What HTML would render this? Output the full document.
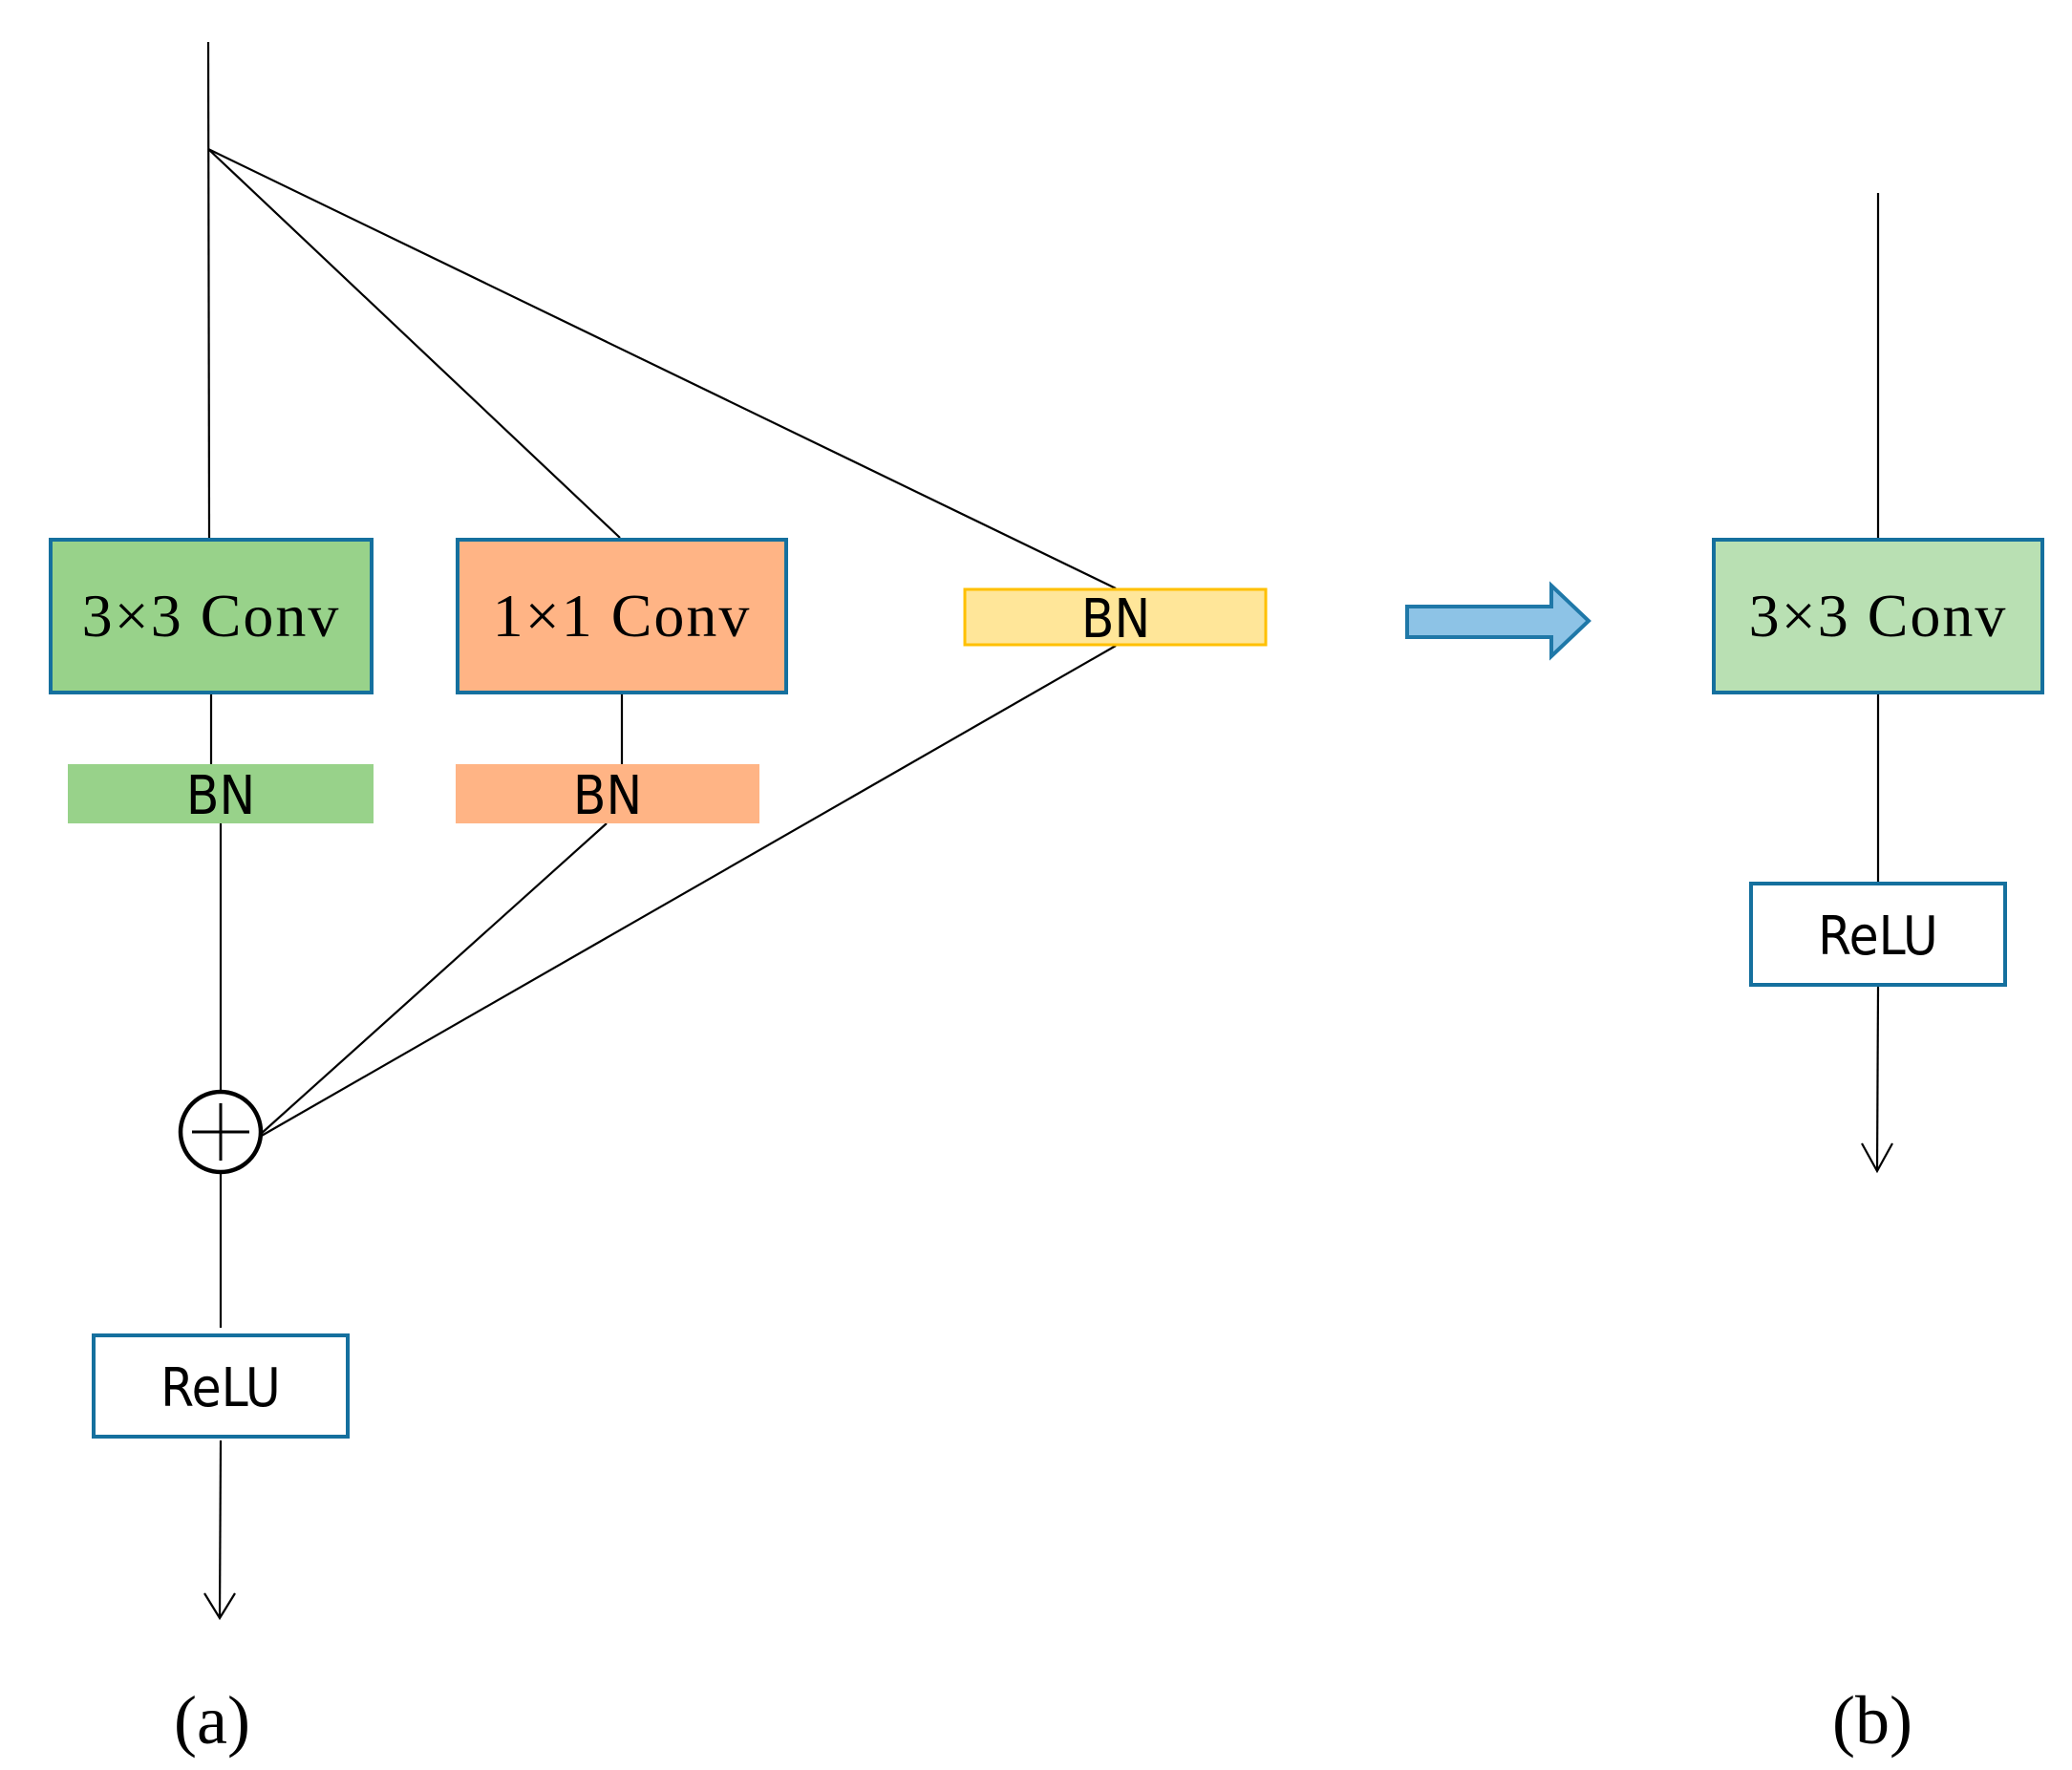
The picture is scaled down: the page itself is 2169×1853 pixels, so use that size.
<!DOCTYPE html>
<html><head><meta charset="utf-8"><style>
html,body{margin:0;padding:0;background:#fff}
svg{display:block}
.serif{font-family:"Liberation Serif",serif}
.sans{font-family:"DejaVu Sans Condensed","Liberation Sans",sans-serif}
</style></head><body>
<svg width="2169" height="1853" viewBox="0 0 2169 1853" xmlns="http://www.w3.org/2000/svg">
<g stroke="#000" stroke-width="2.2" fill="none">
<line x1="218" y1="44" x2="219" y2="563"/>
<line x1="218" y1="156" x2="649" y2="563"/>
<line x1="218" y1="156" x2="1168" y2="616"/>
<line x1="221" y1="727" x2="221" y2="800"/>
<line x1="651" y1="727" x2="651" y2="800"/>
<line x1="231" y1="862" x2="231" y2="1143"/>
<line x1="635" y1="862" x2="272" y2="1188"/>
<line x1="1168" y1="676" x2="272" y2="1190"/>
<line x1="231" y1="1227" x2="231" y2="1390"/>
<line x1="231" y1="1508" x2="230" y2="1694"/>
<polyline points="214,1668 230,1694 246,1668"/>
<line x1="1966" y1="202" x2="1966" y2="563"/>
<line x1="1966" y1="727" x2="1966" y2="923"/>
<line x1="1966" y1="1033" x2="1965" y2="1226"/>
<polyline points="1949,1197 1965,1226 1981,1197"/>
</g>
<circle cx="231" cy="1185" r="42" fill="#fff" stroke="#000" stroke-width="4.5"/>
<line x1="201" y1="1185" x2="261" y2="1185" stroke="#000" stroke-width="3"/>
<line x1="231" y1="1155" x2="231" y2="1215" stroke="#000" stroke-width="3"/>

<rect x="53" y="565" width="336" height="160" fill="#98d28a" stroke="#15709e" stroke-width="4"/>
<text x="221" y="666" class="serif" font-size="64" letter-spacing="2" text-anchor="middle">3×3 Conv</text>
<rect x="479" y="565" width="344" height="160" fill="#ffb485" stroke="#15709e" stroke-width="4"/>
<text x="651" y="666" class="serif" font-size="64" letter-spacing="2" text-anchor="middle">1×1 Conv</text>

<rect x="71" y="800" width="320" height="62" fill="#98d28a"/>
<text x="231" y="852" class="sans" font-size="56" text-anchor="middle">BN</text>
<rect x="477" y="800" width="318" height="62" fill="#ffb485"/>
<text x="636" y="852" class="sans" font-size="56" text-anchor="middle">BN</text>
<rect x="1010" y="617" width="315" height="58" fill="#ffe699" stroke="#ffc000" stroke-width="3"/>
<text x="1168" y="667" class="sans" font-size="56" text-anchor="middle">BN</text>

<rect x="98" y="1398" width="266" height="106" fill="#fff" stroke="#15709e" stroke-width="4"/>
<text x="231" y="1472" class="sans" font-size="56" text-anchor="middle">ReLU</text>

<polygon points="1473,635 1624,635 1624,613 1663,650 1624,687 1624,667 1473,667" fill="#8dc3e6" stroke="#1f78a8" stroke-width="4" stroke-linejoin="miter"/>

<rect x="1794" y="565" width="344" height="160" fill="#b9e0b3" stroke="#15709e" stroke-width="4"/>
<text x="1966" y="666" class="serif" font-size="64" letter-spacing="2" text-anchor="middle">3×3 Conv</text>
<rect x="1833" y="925" width="266" height="106" fill="#fff" stroke="#15709e" stroke-width="4"/>
<text x="1966" y="999" class="sans" font-size="56" text-anchor="middle">ReLU</text>

<text x="222" y="1825" class="serif" font-size="72" text-anchor="middle">(a)</text>
<text x="1960" y="1825" class="serif" font-size="72" text-anchor="middle">(b)</text>
</svg>
</body></html>
